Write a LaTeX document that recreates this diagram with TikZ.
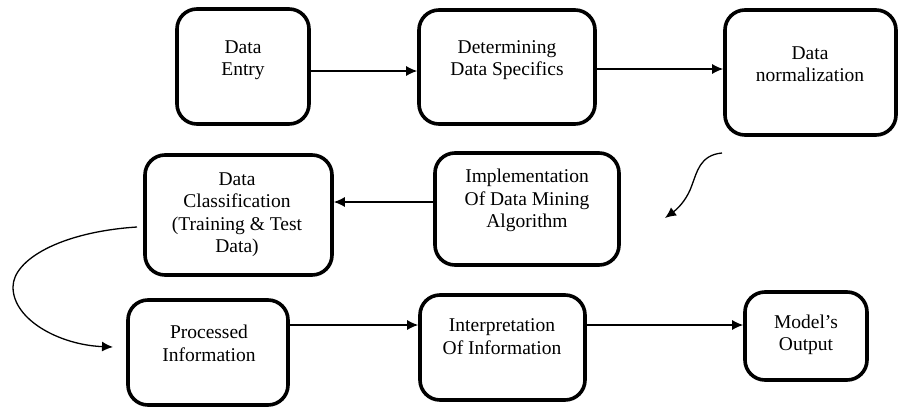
\documentclass[tikz,border=0pt]{standalone}
\usepackage{fontspec}
\setmainfont{Liberation Serif}
\usetikzlibrary{arrows.meta}
\begin{document}
\begin{tikzpicture}[x=1pt,y=-1pt,
  box/.style={draw=black, line width=3.6pt, rounded corners=20pt, inner sep=0pt},
  txt/.style={align=center, font=\fontsize{19.5}{22.5}\selectfont, inner sep=0pt},
  arr/.style={draw=black, line width=1.3pt, -{Latex[length=11pt,width=10pt]}}]
\useasboundingbox (0,0) rectangle (898,410);
\fill[white] (0,0) rectangle (898,410);
% boxes
\node[box, minimum width=132pt, minimum height=115pt] (b1) at (243,66.5) {};
\node[box, minimum width=176pt, minimum height=114pt] (b2) at (507,67) {};
\node[box, minimum width=171pt, minimum height=125pt] (b3) at (810.5,72.5) {};
\node[box, minimum width=187pt, minimum height=120pt] (b4) at (238.5,215) {};
\node[box, minimum width=184pt, minimum height=112pt] (b5) at (527,209) {};
\node[box, minimum width=160pt, minimum height=105pt] (b6) at (208,352.5) {};
\node[box, minimum width=165pt, minimum height=105pt] (b7) at (502.5,347.5) {};
\node[box, minimum width=122pt, minimum height=88pt] (b8) at (806,336) {};
% texts
\node[txt] (t1) at (243,60) {Data\\Entry};
\node[txt] (t2) at (507,60) {Determining\\Data Specifics};
\node[txt] (t3) at (810,64) {Data\\normalization};
\node[txt] (t4) at (237,214.5) {Data\\Classification\\(Training \& Test\\Data)};
\node[txt] (t5) at (527,200.5) {Implementation\\Of Data Mining\\Algorithm};
\node[txt] (t6) at (209,343.5) {Processed\\Information};
\node[txt] (t7) at (502,336.5) {Interpretation\\Of Information};
\node[txt] (t8) at (806,335) {Model’s\\Output};
% straight connectors
\draw[arr] (b1.east |- 0,71) -- (b2.west |- 0,71);
\draw[arr] (b2.east |- 0,69) -- (b3.west |- 0,69);
\draw[arr] (b5.west |- 0,202) -- (b4.east |- 0,202);
\draw[arr] (b6.east |- 0,325) -- (b7.west |- 0,325);
\draw[arr] (b7.east |- 0,325) -- (b8.west |- 0,325);
% curved connectors
\coordinate (c1s) at (722,153);
\coordinate (c1e) at (665,218);
\coordinate (c2s) at (137,227);
\coordinate (c2m) at (13,287);
\coordinate (c2e) at (113,347);
\draw[arr] (c1s) .. controls (700,155) and (697,172) .. (692,185) .. controls (688,197) and (680,207) .. (c1e);
\draw[arr] (c2s) .. controls (60,232) and (13,260) .. (c2m) .. controls (13,320) and (60,345) .. (c2e);
\end{tikzpicture}
\end{document}
